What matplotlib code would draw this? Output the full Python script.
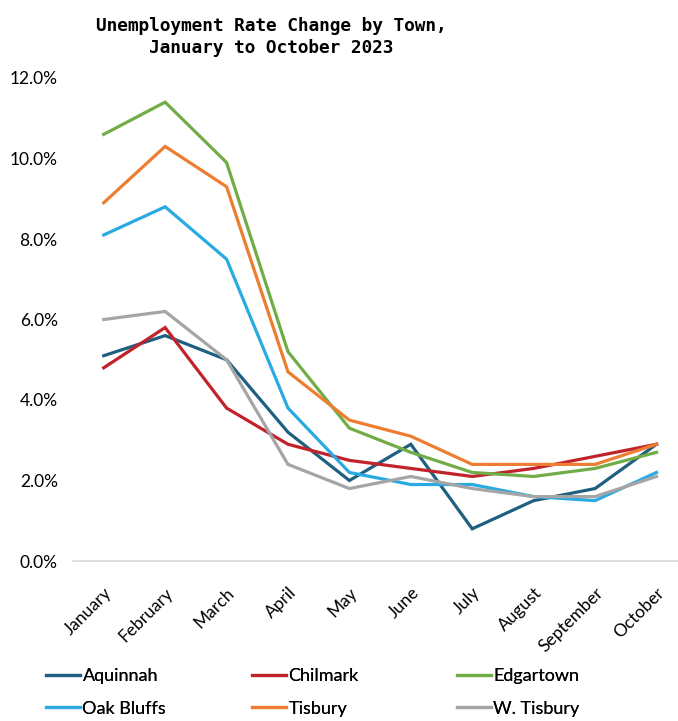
import matplotlib
matplotlib.use("Agg")
import matplotlib.pyplot as plt
from matplotlib.ticker import FuncFormatter

months = ["January", "February", "March", "April", "May", "June",
          "July", "August", "September", "October"]
aquinnah   = [5.1, 5.6, 5.0, 3.2, 2.0, 2.9, 0.8, 1.5, 1.8, 2.9]
chilmark   = [4.8, 5.8, 3.8, 2.9, 2.5, 2.3, 2.1, 2.3, 2.6, 2.9]
edgartown  = [10.6, 11.4, 9.9, 5.2, 3.3, 2.7, 2.2, 2.1, 2.3, 2.7]
oak_bluffs = [8.1, 8.8, 7.5, 3.8, 2.2, 1.9, 1.9, 1.6, 1.5, 2.2]
tisbury    = [8.9, 10.3, 9.3, 4.7, 3.5, 3.1, 2.4, 2.4, 2.4, 2.9]
w_tisbury  = [6.0, 6.2, 5.0, 2.4, 1.8, 2.1, 1.8, 1.6, 1.6, 2.1]
y_ticks = [0, 2, 4, 6, 8, 10, 12]

series = [
    ("Aquinnah", aquinnah, "#1F5F80"),
    ("Chilmark", chilmark, "#C1232B"),
    ("Edgartown", edgartown, "#70AD47"),
    ("Oak Bluffs", oak_bluffs, "#29ABE2"),
    ("Tisbury", tisbury, "#ED7D31"),
    ("W. Tisbury", w_tisbury, "#A5A5A5"),
]

W, H = 678, 721
fig = plt.figure(figsize=(W / 100, H / 100), dpi=100)
ax = fig.add_axes([73 / W, 1 - 561 / H, (678 - 73) / W, (561 - 78) / H])

x = list(range(len(months)))
lines = {}
for name, vals, col in series:
    lines[name], = ax.plot(x, vals, color=col, lw=2.3, label=name, solid_joinstyle="miter")

ax.set_xlim(-0.5, 9.35)
ax.set_ylim(0, 12)
ax.set_yticks(y_ticks)
ax.yaxis.set_major_formatter(FuncFormatter(lambda v, p: f"{v:.1f}%"))
ax.set_xticks(x)
ax.set_xticklabels(months, rotation=45, ha="right", rotation_mode="anchor")

for s in ["left", "right", "top"]:
    ax.spines[s].set_visible(False)
ax.spines["bottom"].set_color("#D9D9D9")
ax.spines["bottom"].set_linewidth(1.2)
ax.tick_params(axis="both", length=0, labelsize=12.5, colors="#000000")
ax.tick_params(axis="y", pad=11)
ax.tick_params(axis="x", pad=17)
for lab in ax.get_xticklabels() + ax.get_yticklabels():
    lab.set_family("Lato")

fig.text(271 / W, 1 - 37 / H, "Unemployment Rate Change by Town,\nJanuary to October 2023",
         ha="center", va="center", family="DejaVu Sans Mono", fontweight="bold",
         fontsize=12.8, linespacing=1.3)

# legend: three columns, each with two rows
col_x = [46, 252, 457]
col_items = [("Aquinnah", "Oak Bluffs"), ("Chilmark", "Tisbury"), ("Edgartown", "W. Tisbury")]
for cx, items in zip(col_x, col_items):
    lg = fig.legend([lines[n] for n in items], list(items), loc="center left",
                    bbox_to_anchor=(cx / W, 1 - 692.5 / H), ncol=1, frameon=False,
                    prop={"family": "Lato", "size": 13}, handlelength=1.9,
                    handletextpad=0.12, labelspacing=0.9, borderaxespad=0,
                    borderpad=0)
    fig.add_artist(lg)

fig.savefig("out.png", dpi=100)
